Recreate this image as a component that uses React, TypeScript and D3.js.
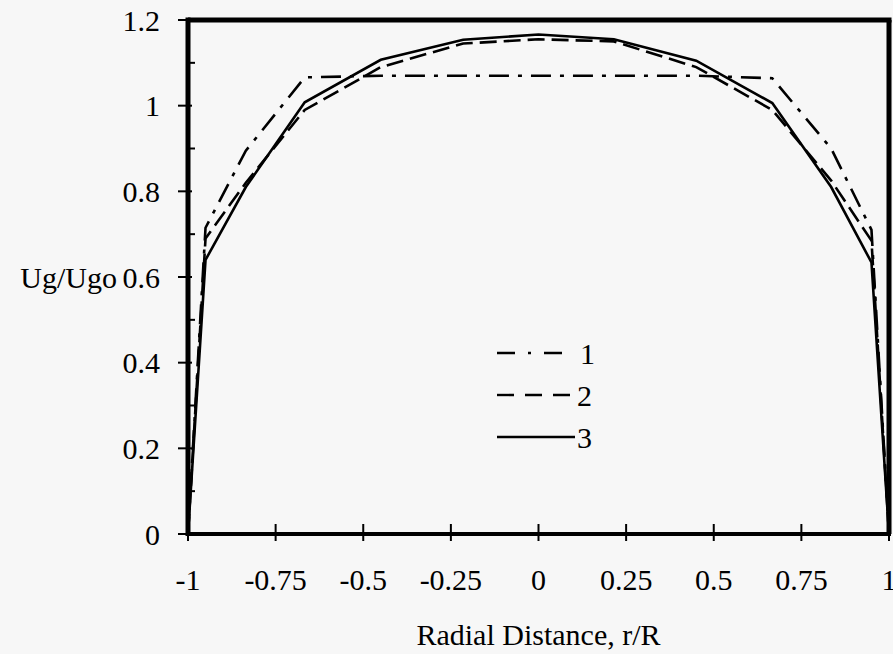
import React from 'react';
import * as d3 from 'd3';

const radius = [-1, -0.95, -0.835, -0.667, -0.45, -0.215, 0, 0.215, 0.45, 0.667, 0.835, 0.95, 1];
const series1 = [0, 0.715, 0.895, 1.066, 1.07, 1.07, 1.07, 1.07, 1.07, 1.064, 0.9, 0.71, 0];
const series2 = [0, 0.69, 0.82, 0.99, 1.09, 1.145, 1.155, 1.15, 1.09, 0.99, 0.825, 0.685, 0];
const series3 = [0, 0.64, 0.81, 1.008, 1.107, 1.154, 1.166, 1.155, 1.105, 1.006, 0.81, 0.634, 0];
const seriesNames = ['1', '2', '3'];
const xTicks = [-1, -0.75, -0.5, -0.25, 0, 0.25, 0.5, 0.75, 1];
const yTicks = [0, 0.2, 0.4, 0.6, 0.8, 1, 1.2];
const yMinor = [0.1, 0.3, 0.5, 0.7, 0.9, 1.1];

const W = 893, H = 654;
const left = 188, right = 889, top = 20, bottom = 534;
const font = '"Liberation Serif", "Times New Roman", serif';
const dashes = ['20,9,4,9', '17,7', 'none'];
const legendDashes = ['18,13,3,13', '17,11', 'none'];
const legendEnd = [562, 572, 575];

// plain hyphen for negatives, like the original
const fmt = (v: number) => String(v);

export default function App() {
  const x = d3.scaleLinear().domain([-1, 1]).range([left, right]);
  const y = d3.scaleLinear().domain([0, 1.2]).range([bottom, top]);
  const line = d3.line<number>().x((d, i) => x(radius[i])).y(d => y(d));
  const all = [series1, series2, series3];

  return (
    <svg width={W} height={H} style={{ position: 'absolute', left: 0, top: 0, background: '#f7f7f7' }}>
      <rect x={0} y={0} width={W} height={H} fill='#f7f7f7' />

      {/* curves */}
      <g fill='none' stroke='#000' strokeWidth={2.6}>
        {all.map((s, i) => (
          <path key={i} d={line(s) || ''} strokeDasharray={dashes[i]} />
        ))}
      </g>

      {/* frame */}
      <g stroke='#000'>
        <line x1={left} x2={right + 2.5} y1={top} y2={top} strokeWidth={5} />
        <line x1={right} x2={right} y1={top} y2={bottom} strokeWidth={5} />
        <line x1={left} x2={right + 2} y1={bottom} y2={bottom} strokeWidth={4} />
        <line x1={left} x2={left} y1={top - 2.5} y2={bottom + 2} strokeWidth={5} />
      </g>

      {/* ticks */}
      <g stroke='#000' strokeWidth={2}>
        {yTicks.map(t => <line key={t} x1={left - 10} x2={left + 4} y1={y(t)} y2={y(t)} />)}
        {yMinor.map(t => <line key={t} x1={left} x2={left + 7} y1={y(t)} y2={y(t)} />)}
        {xTicks.map(t => <line key={t} x1={x(t)} x2={x(t)} y1={bottom - 10} y2={bottom + 7} />)}
      </g>

      <g fontFamily={font} fontSize={30} fill='#000'>
        {yTicks.map(t => (
          <text key={t} x={160} y={y(t)} dy='0.35em' textAnchor='end'>{fmt(t)}</text>
        ))}
        <text x={117} y={y(0.6)} dy='0.35em' textAnchor='end'>Ug/Ugo</text>
        {xTicks.map(t => (
          <text key={t} x={x(t)} y={590} textAnchor='middle'>{fmt(t)}</text>
        ))}
        <text x={x(0)} y={645} textAnchor='middle'>Radial Distance, r/R</text>
      </g>

      {/* legend */}
      <g fontFamily={font} fontSize={30}>
        {seriesNames.map((n, i) => (
          <g key={n} transform={`translate(0, ${353 + i * 42})`}>
            <line x1={497} x2={legendEnd[i]} y1={0} y2={0} stroke='#000' strokeWidth={2.4}
              strokeDasharray={legendDashes[i]} />
            <text x={i === 0 ? 580 : 577} y={0} dy='0.35em'>{n}</text>
          </g>
        ))}
      </g>
    </svg>
  );
}
